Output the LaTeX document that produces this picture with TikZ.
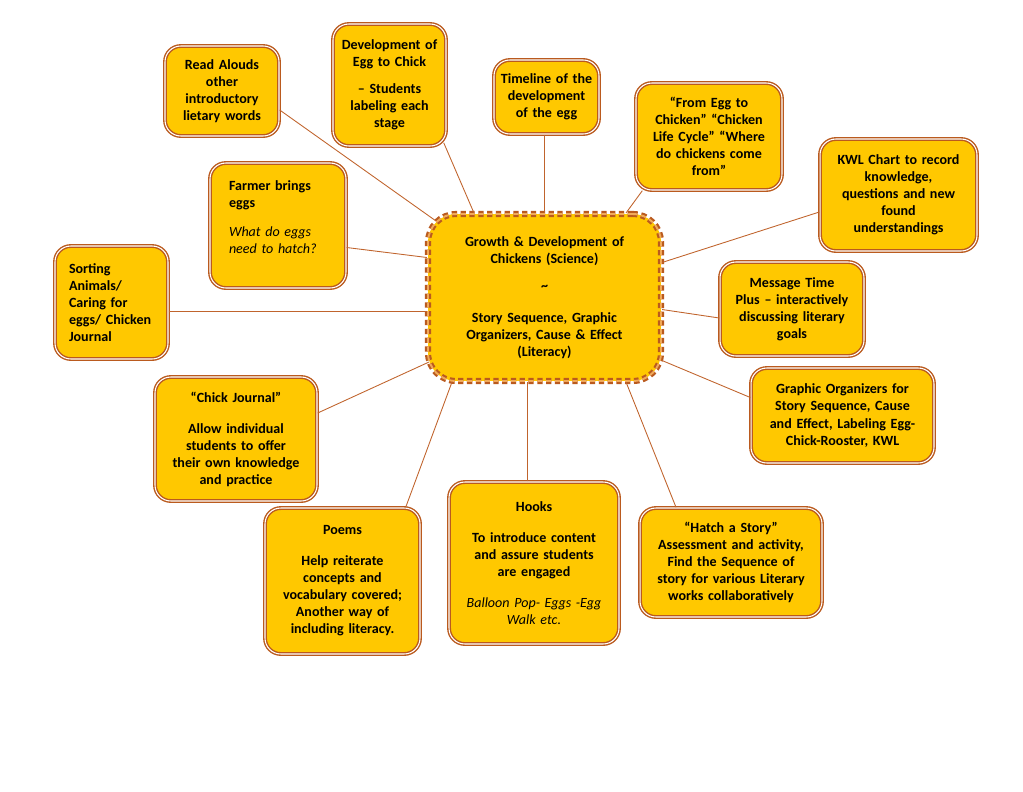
\documentclass[tikz,border=0pt]{standalone}
\usepackage{fontspec}
\setmainfont{Carlito}
\usetikzlibrary{calc}
\definecolor{gold}{RGB}{255,200,0}
\definecolor{rim}{RGB}{186,90,30}
\definecolor{wire}{RGB}{192,100,45}
\definecolor{pale}{RGB}{240,170,90}

\begin{document}
\begin{tikzpicture}[x=0.02cm,y=-0.02cm,
  font=\fontsize{8}{9.7}\selectfont\bfseries,
  topic/.style={draw=rim,line width=0.8pt,double=white,double distance=0.6pt,fill=gold,
    rounded corners=9pt,align=center,inner xsep=0pt,inner ysep=2pt},
  size/.style 2 args={text width=#1cm,minimum width=#1cm,minimum height=#2cm},
  hub/.style={draw=rim,line width=1.2pt,double=pale,double distance=1.1pt,dash pattern=on 3pt off 2pt,
    fill=gold,rounded corners=16pt,align=center,inner xsep=0pt,text width=4.66cm,
    minimum width=4.66cm,minimum height=3.34cm},
  link/.style={draw=wire,line width=0.5pt}]
  \useasboundingbox (0,0) rectangle (1023,791);

  % hub
  \node[hub] (c) at (544.5,297.5)
    {Growth \& Development of\\Chickens (Science)\\[0.2cm]\textasciitilde\\[0.3cm]Story Sequence, Graphic\\Organizers, Cause \& Effect\\(Literacy)};

  % topics round the hub
  \node[topic,size={2.28}{1.8}] (ra) at (222,91)
    {Read Alouds\\other\\introductory\\lietary words};
  \node[topic,size={2.26}{2.44}] (dev) at (389.5,85)
    {Development of\\Egg to Chick\\[0.2cm]– Students\\labeling each\\stage};
  \node[topic,size={2.1}{1.48}] (tl) at (546.5,97)
    {Timeline of the\\development\\of the egg};
  \node[topic,size={2.92}{2.14}] (fe) at (709,136.5)
    {“From Egg to\\Chicken” “Chicken\\Life Cycle” “Where\\do chickens come\\from”};
  \node[topic,size={3.14}{2.24}] (kwl) at (898.5,195)
    {KWL Chart to record\\knowledge,\\questions and new\\found\\understandings};
  \node[topic,size={2.88}{1.88}] (msg) at (792,309)
    {Message Time\\Plus – interactively\\discussing literary\\goals};
  \node[topic,size={3.66}{1.9}] (go) at (842.5,415.5)
    {Graphic Organizers for\\Story Sequence, Cause\\and Effect, Labeling Egg-\\Chick-Rooster, KWL};
  \node[topic,size={3.64}{2.18}] (hat) at (731,562.5)
    {“Hatch a Story”\\Assessment and activity,\\Find the Sequence of\\story for various Literary\\works collaboratively};
  \node[topic,size={3.4}{3.24}] (hk) at (534,563)
    {Hooks\\[0.28cm]To introduce content\\and assure students\\are engaged\\[0.28cm]{\mdseries\itshape Balloon Pop- Eggs -Egg\\Walk etc.}};
  \node[topic,size={3.1}{2.92}] (pm) at (342.5,581)
    {Poems\\[0.28cm]Help reiterate\\concepts and\\vocabulary covered;\\Another way of\\including literacy.};
  \node[topic,size={3.24}{2.48}] (cj) at (236,439)
    {“Chick Journal”\\[0.28cm]Allow individual\\students to offer\\their own knowledge\\and practice};
  \node[topic,size={2.26}{2.26},text width=1.7cm,align=left] (so) at (111.5,302.5)
    {Sorting\\Animals/\\Caring for\\eggs/ Chicken\\Journal};
  \node[topic,size={2.72}{2.5},text width=1.96cm,align=left] (fm) at (278,225.5)
    {Farmer brings\\eggs\\[0.25cm]{\mdseries\itshape What do eggs\\need to hatch?}\par\mbox{}};

  % links
  \draw[link] ($(ra.east)+(0,19)$) -- ($(c.north west)+(9,8)$);
  \draw[link] ($(dev.south east)+(-3,-4)$) -- ($(c.north west)+(47,0)$);
  \draw[link] ($(tl.south)+(-2,0)$) coordinate (tlx) -- (tlx |- c.north);
  \draw[link] ($(fe.south west)+(7,0)$) -- ($(c.north east)+(-36,0)$);
  \draw[link] ($(kwl.west)+(0,17)$) -- ($(c.east)+(0,-35)$);
  \draw[link] ($(msg.west)+(0,9)$) -- ($(c.east)+(0,12)$);
  \draw[link] ($(go.west)+(0,-18)$) -- ($(c.east)+(0,63)$);
  \draw[link] ($(hat.north)+(-55,0)$) -- ($(c.south east)+(-36,0)$);
  \draw[link] ($(hk.north)+(-7,0)$) coordinate (hkx) -- (hkx |- c.south);
  \draw[link] ($(pm.north east)+(-15,0)$) -- ($(c.south west)+(25,0)$);
  \draw[link] ($(cj.east)+(0,-26)$) -- ($(c.south west)+(2,-20)$);
  \draw[link] ($(so.east)+(0,9)$) coordinate (sox) -- (sox -| c.west);
  \draw[link] ($(fm.east)+(0,22)$) -- ($(c.west)+(0,-40)$);
\end{tikzpicture}
\end{document}
